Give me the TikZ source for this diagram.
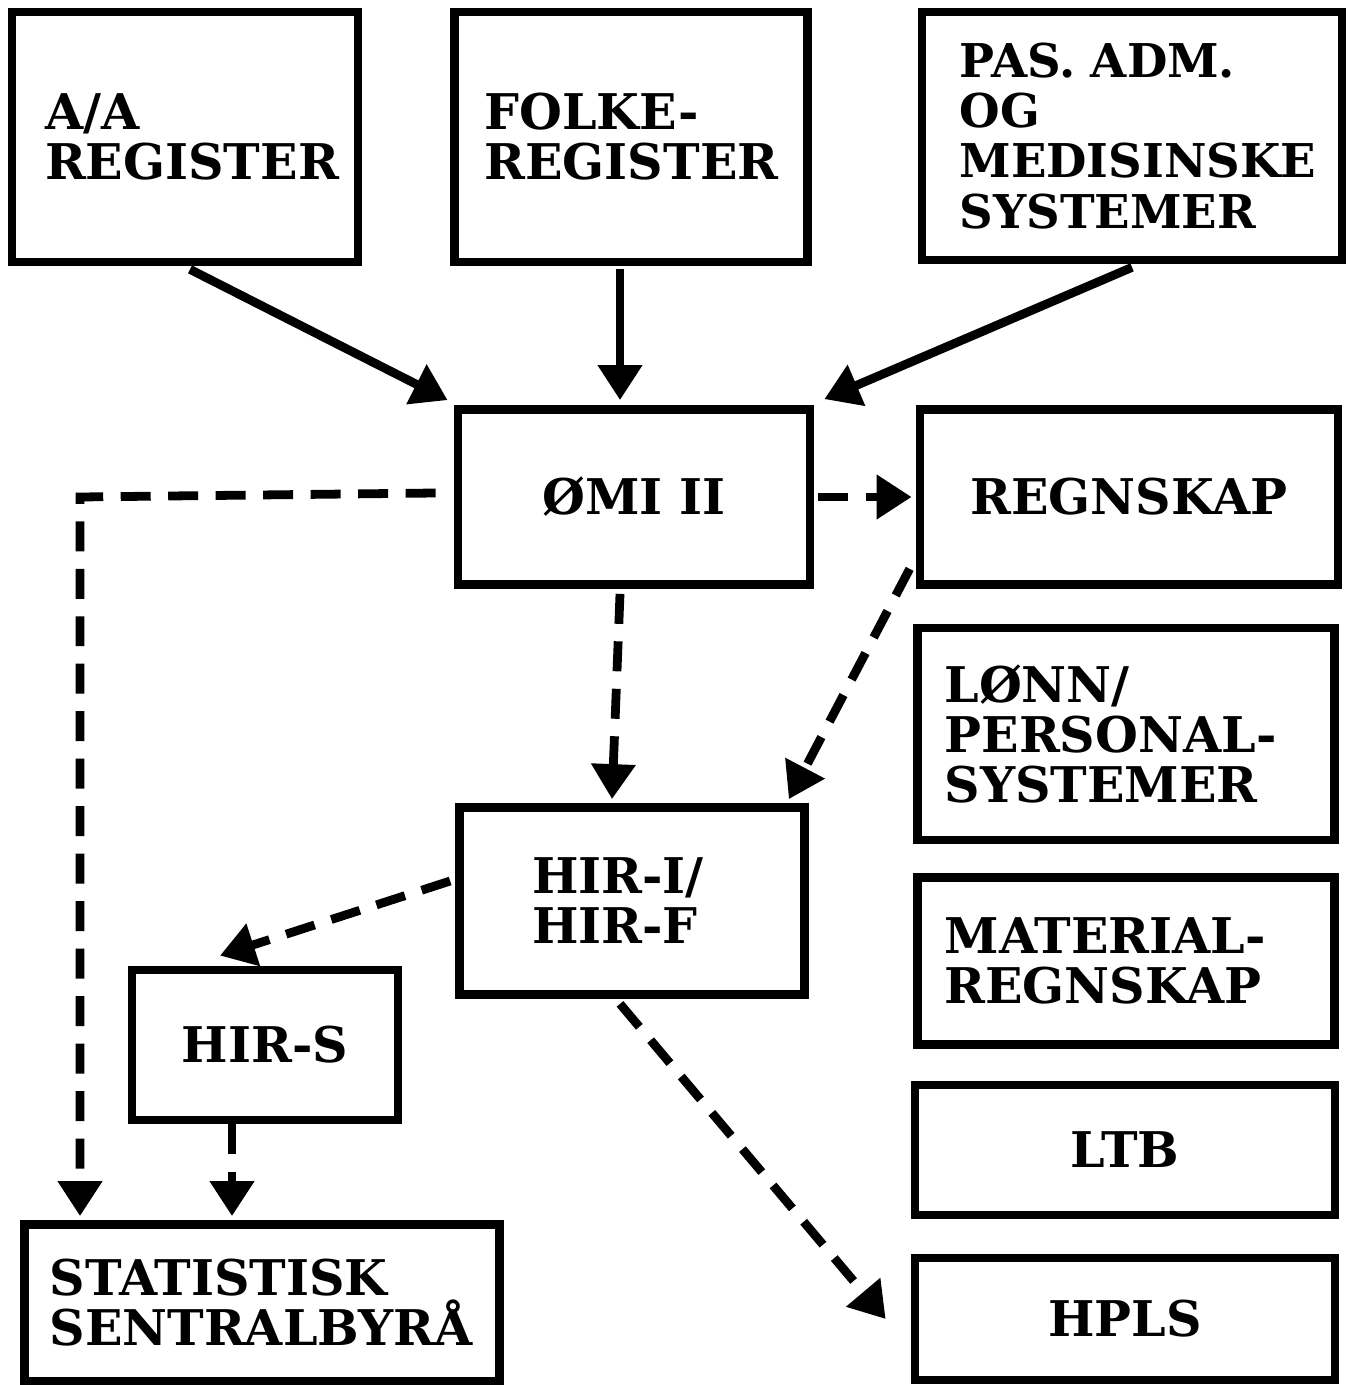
\documentclass[tikz,border=0pt]{standalone}
\usepackage{fontspec}
\setmainfont{DejaVu Serif}
\usepackage{tikz}
\usetikzlibrary{arrows.meta,calc}

\tikzset{
  sysbox/.style = {draw, line width = 5pt, rectangle, inner sep = 0pt,
    font = \fontsize{28}{28.5}\selectfont\bfseries},
  flow/.style = {line width = 5pt, -{Triangle[length=0.7cm,width=0.85cm]}},
  dflow/.style = {flow, dash pattern = on 0.6cm off 0.35cm}
}

\begin{document}
\begin{tikzpicture} [x = 0.02cm, y = -0.02cm]
	\useasboundingbox (0,0) rectangle (1353,1385);
	% top row
	\node [sysbox, minimum width = 6.92cm, minimum height = 5cm, text width = 5.6cm, align = left] (aa) at (185,137) {A/A\\REGISTER};
	\node [sysbox, minimum width = 7.06cm, minimum height = 5cm, text width = 5.86cm, align = left] (folke) at (631,137) {FOLKE-\\REGISTER};
	\node [sysbox, minimum width = 8.4cm, minimum height = 4.96cm, text width = 6.9cm, align = left,
	  font = \fontsize{26.5}{28.5}\selectfont\bfseries] (pas) at (1132,136) {PAS.\ ADM.\\OG\\MEDISINSKE\\SYSTEMER};
	% middle
	\node [sysbox, minimum width = 7.04cm, minimum height = 3.5cm] (omi) at (634,497) {ØMI II};
	\node [sysbox, minimum width = 8.36cm, minimum height = 3.5cm] (regn) at (1129,497) {REGNSKAP};
	\node [sysbox, minimum width = 8.34cm, minimum height = 4.24cm, text width = 7.26cm, align = left] (lonn) at (1126,734) {LØNN/\\PERSONAL-\\SYSTEMER};
	\node [sysbox, minimum width = 8.34cm, minimum height = 3.34cm, text width = 7.26cm, align = left] (mat) at (1126,961) {MATERIAL-\\REGNSKAP};
	\node [sysbox, minimum width = 6.9cm, minimum height = 3.74cm, text width = 4.0cm, align = left] (hir) at (632,901) {HIR-I/\\HIR-F};
	\node [sysbox, minimum width = 5.32cm, minimum height = 3cm] (hirs) at (265,1045) {HIR-S};
	% bottom
	\node [sysbox, minimum width = 8.4cm, minimum height = 2.6cm] (ltb) at (1125,1150) {LTB};
	\node [sysbox, minimum width = 8.4cm, minimum height = 2.44cm] (hpls) at (1125,1319) {HPLS};
	\node [sysbox, minimum width = 9.5cm, minimum height = 3.14cm, text width = 8.5cm, align = left] (ssb) at (262,1303) {STATISTISK\\SENTRALBYRÅ};

	\coordinate (s1) at (232,1120);
	\coordinate (s2) at (80,490);

	% solid inputs
	\draw [flow] ($(aa.south)+(5,3)$) -- ($(omi.north west)+(-6,-5)$);
	\draw [flow] ($(folke.south)+(-11,3)$) -- ($(omi.north)+(-14,-5)$);
	\draw [flow] ($(pas.south)+(0,3)$) -- ($(omi.north east)+(10,-6)$);

	% dashed flows
	\draw [dflow] ($(omi.west)+(-18,-4)$) -- (omi.west -| s2) -- ($(ssb.north -| s2)+(0,-4)$);
	\draw [dflow] ($(omi.east)+(4,0)$) -- ($(regn.west)+(-4,0)$);
	\draw [dflow] ($(omi.south)+(-14,5)$) -- ($(hir.north)+(-20,-4)$);
	\draw [dflow] ($(regn.south west)+(-6,-20)$) -- ($(hir.north east)+(-20,-4)$);
	\draw [dflow] ($(hir.west)+(-5,-20)$) -- ($(hirs.north)+(-45,-10)$);
	\draw [dflow] (hirs.south -| s1) -- ($(ssb.north -| s1)+(0,-4)$);
	\draw [dflow] ($(hir.south)+(-12,5)$) -- ($(hpls.west)+(-25,0)$);
\end{tikzpicture}
\end{document}
